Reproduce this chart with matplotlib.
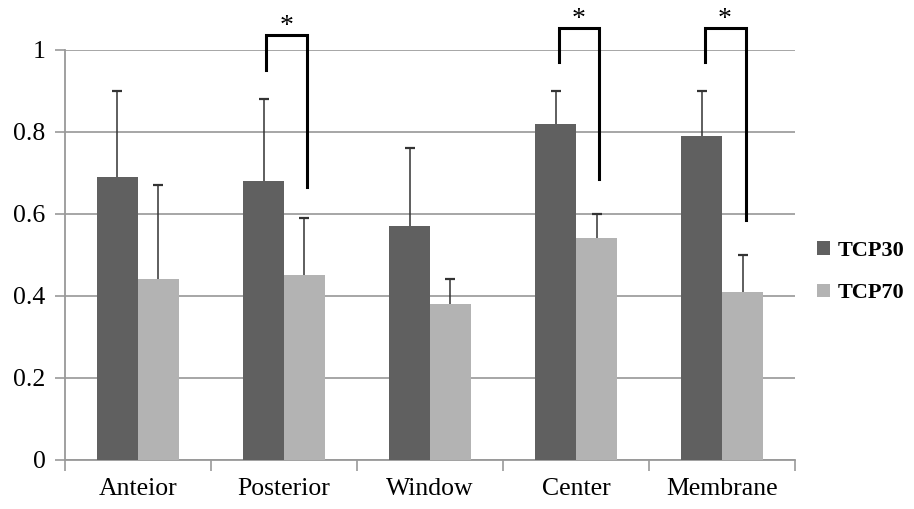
import numpy as np
import matplotlib.pyplot as plt

plt.rcParams['font.family'] = ['Liberation Serif', 'DejaVu Serif']

regions = ['Anteior', 'Posterior', 'Window', 'Center', 'Membrane']
tcp30 = [0.69, 0.68, 0.57, 0.82, 0.79]
tcp30_err = [0.21, 0.20, 0.19, 0.08, 0.11]
tcp70 = [0.44, 0.45, 0.38, 0.54, 0.41]
tcp70_err = [0.23, 0.14, 0.06, 0.06, 0.09]

# significance brackets: (category index, left leg bottom, right leg bottom, top)
sig_idx = [1, 3, 4]
sig_left = [0.95, 0.97, 0.97]
sig_right = [0.665, 0.685, 0.585]
sig_top = [1.035, 1.052, 1.052]

dark = '#606060'
light = '#b3b3b3'
w = 0.28

fig = plt.figure(figsize=(9.14, 5.09), dpi=100)
ax = fig.add_axes([0.071, 0.0963, 0.799, 0.806])

x = np.arange(len(regions))
ax.bar(x - w / 2, tcp30, w, color=dark, label='TCP30', zorder=3)
ax.bar(x + w / 2, tcp70, w, color=light, label='TCP70', zorder=3)

# upper-only error bars
for xs, vals, errs in [(x - w / 2, tcp30, tcp30_err), (x + w / 2, tcp70, tcp70_err)]:
    tops = np.array(vals) + np.array(errs)
    ax.vlines(xs, vals, tops, color='#333333', lw=1.1, zorder=4)
    ax.plot(xs, tops, ls='none', marker='_', ms=7, mew=1.6,
            color='#333333', zorder=4)

for i, yl, yr, yt in zip(sig_idx, sig_left, sig_right, sig_top):
    xl = i - w / 2 + 0.02
    xr = i + w / 2 + 0.02
    ax.plot([xl, xl, xr, xr], [yl, yt, yt, yr], color='black', lw=2.2,
            clip_on=False, zorder=5, solid_joinstyle='miter')
    ax.text((xl + xr) / 2, yt + 0.006, '*', ha='center', va='baseline',
            fontsize=20, clip_on=False)

ax.set_xlim(-0.5, 4.5)
ax.set_ylim(0, 1)
ax.set_yticks([0, 0.2, 0.4, 0.6, 0.8, 1.0])
ax.set_yticklabels(['0', '0.2', '0.4', '0.6', '0.8', '1'])
ax.set_xticks(x)
ax.set_xticklabels(regions)
ax.set_xticks(np.arange(-0.5, 5, 1), minor=True)
ax.tick_params(axis='x', which='major', length=0, pad=13, labelsize=18.5)
ax.tick_params(axis='x', which='minor', length=8, color='#999999', width=1.2)
ax.tick_params(axis='y', length=7, color='#999999', width=1.2, labelsize=18.5, pad=7)
ax.grid(axis='y', color='#a6a6a6', lw=1.4, zorder=0)
for s in ['top', 'right']:
    ax.spines[s].set_visible(False)
for s in ['left', 'bottom']:
    ax.spines[s].set_color('#999999')
    ax.spines[s].set_linewidth(1.3)

leg = ax.legend(loc='center left', bbox_to_anchor=(1.0, 0.458), frameon=False,
                handlelength=0.55, handleheight=0.55, handletextpad=0.35,
                labelspacing=1.0, borderaxespad=0.6,
                prop={'weight': 'bold', 'size': 16})

fig.savefig('out.png', dpi=100)
